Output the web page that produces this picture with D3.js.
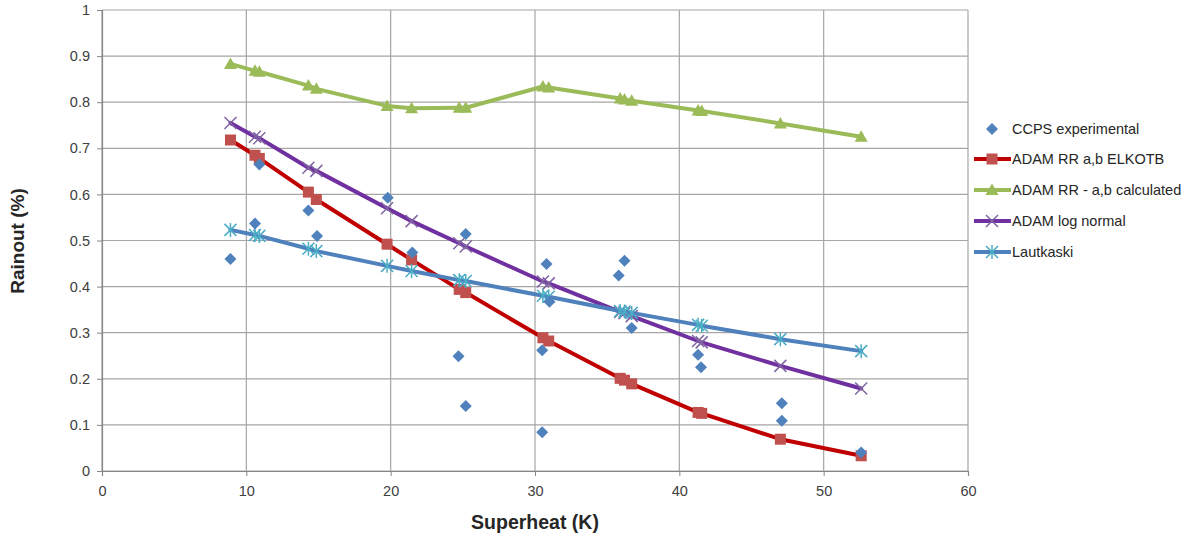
<!DOCTYPE html>
<html><head><meta charset="utf-8">
<script src="https://cdn.jsdelivr.net/npm/d3@7"></script>
<style>body{margin:0;background:#fff;} text{font-family:"Liberation Sans",Arial,sans-serif;}</style>
</head><body><svg id="c" width="1196" height="542"></svg>
<script>
const ccpsX = [8.9,10.6,10.9,14.3,14.9,19.8,21.5,24.7,25.2,25.2,30.5,30.5,30.8,31.0,35.8,36.2,36.7,41.3,41.5,47.1,47.1,52.6];
const ccpsY = [0.46,0.537,0.665,0.565,0.51,0.593,0.474,0.249,0.514,0.141,0.262,0.084,0.449,0.367,0.424,0.456,0.31,0.252,0.225,0.147,0.109,0.04];
const modelX = [8.9,10.6,10.9,14.3,14.85,19.75,21.45,24.75,25.2,30.55,30.95,35.9,36.2,36.7,41.3,41.55,47.0,52.6];
const elkotb = [0.718,0.685,0.678,0.605,0.589,0.492,0.458,0.394,0.387,0.289,0.282,0.201,0.197,0.189,0.127,0.125,0.069,0.033];
const calculated = [0.883,0.868,0.866,0.836,0.829,0.792,0.787,0.788,0.788,0.834,0.832,0.808,0.806,0.803,0.782,0.781,0.754,0.725];
const logNormal = [0.755,0.725,0.722,0.658,0.651,0.57,0.542,0.494,0.487,0.411,0.407,0.345,0.342,0.336,0.282,0.279,0.228,0.179];
const lautkaski = [0.523,0.512,0.51,0.482,0.477,0.445,0.434,0.414,0.412,0.38,0.378,0.347,0.346,0.343,0.317,0.315,0.286,0.26];
const xTicks = [0,10,20,30,40,50,60];
const yTicks = [0,0.1,0.2,0.3,0.4,0.5,0.6,0.7,0.8,0.9,1];
const seriesNames = ["CCPS experimental","ADAM RR a,b ELKOTB","ADAM RR - a,b calculated","ADAM log normal","Lautkaski"];

const svg = d3.select("#c");
const x = d3.scaleLinear().domain([0,60]).range([102,968]);
const y = d3.scaleLinear().domain([0,1]).range([471,10]);
const grid = "#a6a6a6";

svg.append("g").selectAll("line").data(yTicks).join("line")
  .attr("x1",x(0)).attr("x2",x(60)).attr("y1",d=>y(d)).attr("y2",d=>y(d))
  .attr("stroke",grid).attr("stroke-width",1.2);
svg.append("g").selectAll("line").data(xTicks).join("line")
  .attr("y1",y(0)).attr("y2",y(1)).attr("x1",d=>x(d)).attr("x2",d=>x(d))
  .attr("stroke",grid).attr("stroke-width",1.2);

const ya = svg.append("g").attr("transform",`translate(${x(0)},0)`)
  .call(d3.axisLeft(y).tickValues(yTicks).tickFormat(d3.format("~g")).tickSize(5).tickPadding(7));
const xa = svg.append("g").attr("transform",`translate(0,${y(0)})`)
  .call(d3.axisBottom(x).tickValues(xTicks).tickSize(5).tickPadding(10));
[ya,xa].forEach(a=>{
  a.select(".domain").attr("stroke","#868686").attr("stroke-width",1.2);
  a.selectAll(".tick line").attr("stroke","#868686");
  a.selectAll("text").attr("fill","#404040").style("font-size","14.5px");
});

svg.append("text").attr("x",535).attr("y",529).attr("text-anchor","middle")
  .style("font-size","19.5px").style("font-weight","bold").attr("fill","#262626").text("Superheat (K)");
svg.append("text").attr("transform","translate(24,241) rotate(-90)").attr("text-anchor","middle")
  .style("font-size","19px").style("font-weight","bold").attr("fill","#262626").text("Rainout (%)");

const line = d3.line().x(d=>x(d[0])).y(d=>y(d[1]));
function zipXY(xs,ys){return xs.map((v,i)=>[v,ys[i]]);}

const cfg = [
  {vals:elkotb, line:"#c00000", mk:"#c0504d", type:"square"},
  {vals:calculated, line:"#9bbb59", mk:"#9bbb59", type:"triangle"},
  {vals:logNormal, line:"#7030a0", mk:"#8064a2", type:"x"},
  {vals:lautkaski, line:"#4f81bd", mk:"#4bacc6", type:"star"}
];

function drawMarker(g, type, color, cx, cy){
  if(type==="square"){
    g.append("rect").attr("x",cx-5.5).attr("y",cy-5.5).attr("width",11).attr("height",11).attr("fill",color);
  } else if(type==="triangle"){
    g.append("path").attr("d",`M${cx},${cy-6.5}L${cx+6.5},${cy+5}L${cx-6.5},${cy+5}Z`).attr("fill",color);
  } else if(type==="x"){
    g.append("path").attr("d",`M${cx-6},${cy-6}L${cx+6},${cy+6}M${cx-6},${cy+6}L${cx+6},${cy-6}`).attr("stroke",color).attr("stroke-width",1.5).attr("fill","none");
  } else if(type==="star"){
    g.append("path").attr("d",`M${cx-6},${cy-6}L${cx+6},${cy+6}M${cx-6},${cy+6}L${cx+6},${cy-6}M${cx},${cy-7}L${cx},${cy+7}`).attr("stroke",color).attr("stroke-width",1.5).attr("fill","none");
  } else if(type==="diamond"){
    g.append("path").attr("d",`M${cx},${cy-6}L${cx+6},${cy}L${cx},${cy+6}L${cx-6},${cy}Z`).attr("fill",color);
  }
}

cfg.forEach(c=>{
  const pts = zipXY(modelX,c.vals);
  svg.append("path").datum(pts).attr("d",line).attr("fill","none")
    .attr("stroke",c.line).attr("stroke-width",4).attr("stroke-linejoin","round").attr("stroke-linecap","round");
  const g = svg.append("g");
  pts.forEach(p=>drawMarker(g,c.type,c.mk,x(p[0]),y(p[1])));
});

const dg = svg.append("g");
zipXY(ccpsX,ccpsY).forEach(p=>drawMarker(dg,"diamond","#4f81bd",x(p[0]),y(p[1])));

const leg = svg.append("g");
const legY = [129,159,190,221,252];
const legCfg = [{type:"diamond",line:null,mk:"#4f81bd"}].concat(cfg);
legCfg.forEach((c,i)=>{
  const cy = legY[i];
  if(c.line) leg.append("line").attr("x1",974).attr("x2",1011).attr("y1",cy).attr("y2",cy).attr("stroke",c.line).attr("stroke-width",4);
  drawMarker(leg,c.type,c.mk,992,cy);
  leg.append("text").attr("x",1012).attr("y",cy+5).style("font-size","14.5px").attr("fill","#262626").text(seriesNames[i]);
});
</script></body></html>
